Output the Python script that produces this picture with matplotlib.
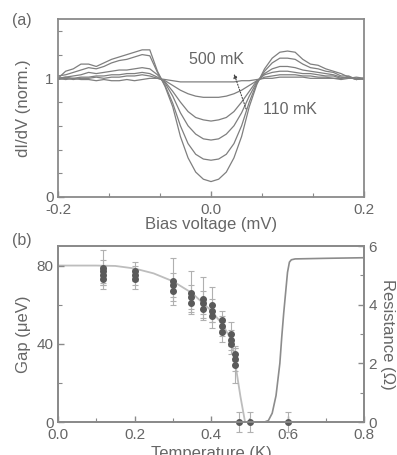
import numpy as np
import matplotlib
matplotlib.use("Agg")
import matplotlib.pyplot as plt
from matplotlib.ticker import MultipleLocator, FixedLocator

plt.rcParams['font.family'] = ['Liberation Sans', 'DejaVu Sans']

# ---------------- data: panel (a) ----------------
bias = np.linspace(-0.2, 0.2, 41)  # mV
didv_110 = [1.00,1.06,1.08,1.12,1.12,1.10,1.13,1.16,1.18,1.20,1.22,1.24,1.24,1.06,0.93,0.76,0.51,0.33,0.21,0.15,
            0.13,
            0.15,0.21,0.33,0.51,0.76,0.95,1.08,1.17,1.22,1.23,1.22,1.16,1.12,1.11,1.08,1.06,1.04,1.01,1.00,0.99]
didv_2 = [1.02,1.03,1.05,1.07,1.09,1.08,1.10,1.13,1.15,1.16,1.18,1.20,1.19,1.05,0.94,0.79,0.60,0.45,0.36,0.32,
          0.31,
          0.32,0.36,0.45,0.60,0.80,0.96,1.06,1.13,1.17,1.17,1.16,1.12,1.09,1.08,1.06,1.05,1.02,1.02,0.99,1.00]
didv_3 = [1.00,1.01,1.02,1.03,1.05,1.04,1.05,1.06,1.07,1.07,1.08,1.09,1.08,1.03,0.96,0.85,0.71,0.60,0.53,0.49,
          0.48,
          0.49,0.53,0.60,0.71,0.85,0.97,1.04,1.08,1.10,1.10,1.09,1.07,1.06,1.05,1.04,1.03,1.01,1.00,1.01,1.00]
didv_4 = [1.00,1.01,1.00,1.01,1.01,1.02,1.02,1.03,1.03,1.04,1.04,1.05,1.04,1.01,0.97,0.89,0.80,0.72,0.67,0.65,
          0.64,
          0.65,0.67,0.72,0.80,0.89,0.98,1.03,1.05,1.06,1.06,1.05,1.04,1.04,1.03,1.02,1.02,1.00,1.01,0.99,1.00]
didv_5 = [0.99,1.00,0.99,1.00,1.00,1.01,1.00,1.01,1.01,1.02,1.02,1.03,1.02,1.00,0.98,0.94,0.90,0.87,0.85,0.84,
          0.84,
          0.84,0.85,0.87,0.90,0.94,0.98,1.01,1.02,1.03,1.03,1.03,1.02,1.02,1.01,1.01,1.00,1.00,1.01,0.99,1.00]
didv_500 = [1.00,0.99,1.00,0.99,0.99,0.98,0.99,0.98,0.98,0.99,0.98,0.99,1.00,1.00,0.99,0.98,0.97,0.97,0.97,0.97,
            0.97,
            0.97,0.97,0.97,0.98,0.98,0.99,1.00,1.00,1.01,1.01,1.01,1.01,1.00,1.00,1.00,1.00,0.99,1.00,1.00,1.00]
curves = [didv_110, didv_2, didv_3, didv_4, didv_5, didv_500]
bias_ticks = [-0.2, 0.0, 0.2]
bias_labels = ['-0.2', '0.0', '0.2']

# ---------------- data: panel (b) ----------------
gap_T = [0.117]*4 + [0.2]*3 + [0.3]*3 + [0.348]*3 + [0.378]*3 + [0.403]*3 + [0.43]*3 + [0.452]*3 + [0.462]*3 + [0.473, 0.502, 0.6]
gap_val = [79, 77, 75, 73,
           77, 75, 73,
           72, 70, 67,
           66, 64, 61,
           63, 61, 58,
           60, 57, 54,
           52, 49, 46,
           45, 42, 40,
           35, 32, 29,
           0, 0, 0]
gap_err = [9, 6, 5, 5,
           5, 5, 5,
           12, 6, 5,
           11, 6, 5,
           11, 6, 5,
           9, 6, 6,
           5, 5, 5,
           6, 5, 5,
           4, 6, 9,
           5, 5, 5]
fit_T = [0.0, 0.05, 0.1, 0.15, 0.2, 0.25, 0.3, 0.35, 0.4, 0.43, 0.45, 0.46, 0.465, 0.477, 0.489]
fit_gap = [80, 80, 80, 79.8, 78.5, 76, 72, 66, 57, 50, 43, 35, 28, 13, 0]
res_T = [0.50, 0.54, 0.55, 0.56, 0.57, 0.58, 0.585, 0.59, 0.595, 0.60, 0.605, 0.61, 0.62, 0.70, 0.80]
res_R = [0, 0, 0.05, 0.3, 0.9, 2.0, 2.9, 3.7, 4.4, 5.1, 5.45, 5.53, 5.56, 5.58, 5.6]
temp_ticks = [0.0, 0.2, 0.4, 0.6, 0.8]
temp_labels = ['0.0', '0.2', '0.4', '0.6', '0.8']

txt = '#666666'
spine = '#8a8a8a'
line_c = '#7f7f7f'

fig = plt.figure(figsize=(3.97, 4.55), dpi=100)
axa = fig.add_axes([58/397, 1-197/455, (364-58)/397, (197-19)/455])
axb = fig.add_axes([58/397, 1-422/455, (364-58)/397, (422-246)/455])

def style(ax):
    for s in ax.spines.values():
        s.set_color(spine)
        s.set_linewidth(1.3)
    ax.tick_params(which='both', direction='in', colors=spine, labelcolor=txt, labelsize=11, pad=3)
    ax.tick_params(which='major', length=4, width=1)
    ax.tick_params(which='minor', length=3, width=0.8)

# panel (a)
for c in curves:
    axa.plot(bias, c, color=line_c, lw=0.9)
axa.set_xlim(-0.2, 0.2)
axa.set_ylim(0, 1.5)
axa.xaxis.set_major_locator(FixedLocator(bias_ticks))
axa.xaxis.set_minor_locator(FixedLocator([-0.4/3, -0.2/3, 0.2/3, 0.4/3]))
axa.yaxis.set_major_locator(FixedLocator([0, 1]))
axa.yaxis.set_minor_locator(FixedLocator([0.2, 0.4, 0.6, 0.8, 1.2, 1.4]))
axa.set_xticklabels(bias_labels)
style(axa)
axa.tick_params(axis='x', pad=4)
axa.set_xlabel('Bias voltage (mV)', color=txt, fontsize=12, labelpad=0)
axa.set_ylabel('dI/dV (norm.)', color=txt, fontsize=12, labelpad=10)
axa.text(0.007, 1.16, '500 mK', color=txt, fontsize=11.5, ha='center', va='center')
axa.text(0.068, 0.74, '110 mK', color=txt, fontsize=11.5, ha='left', va='center')
axa.annotate('', xy=(0.029, 1.06), xytext=(0.047, 0.72),
             arrowprops=dict(arrowstyle='-|>', color='#444444', lw=0.8, ls=(0, (1, 1.5)),
                             mutation_scale=6))
fig.text(12/397, 1-20/455, '(a)', color=txt, fontsize=11.5, va='center', ha='left')

# panel (b)
axb.plot(fit_T, fit_gap, color='#bdbdbd', lw=1.3, zorder=1)
axb.errorbar(gap_T, gap_val, yerr=gap_err, fmt='o', ms=4, mfc='#5a5a5a', mec='#5a5a5a',
             ecolor='#b0b0b0', elinewidth=0.8, capsize=2, capthick=0.8, zorder=3, clip_on=False)
axb.set_xlim(0, 0.8)
axb.set_ylim(0, 90)
axb.xaxis.set_major_locator(FixedLocator(temp_ticks))
axb.xaxis.set_minor_locator(FixedLocator([0.1, 0.3, 0.5, 0.7]))
axb.yaxis.set_major_locator(FixedLocator([0, 40, 80]))
axb.yaxis.set_minor_locator(FixedLocator([20, 60]))
axb.set_xticklabels(temp_labels)
style(axb)
axb.tick_params(axis='x', pad=4)
axb.set_xlabel('Temperature (K)', color=txt, fontsize=12, labelpad=3)
axb.set_ylabel('Gap (\u03bceV)', color=txt, fontsize=12, labelpad=4)

axr = axb.twinx()
axr.plot(res_T, res_R, color='#8c8c8c', lw=1.2)
axr.set_ylim(0, 6)
axr.yaxis.set_major_locator(FixedLocator([0, 2, 4, 6]))
axr.yaxis.set_minor_locator(FixedLocator([1, 3, 5]))
style(axr)
axr.set_ylabel('Resistance (\u03a9)', color=txt, fontsize=12, rotation=270, labelpad=13)
fig.text(12/397, 1-240/455, '(b)', color=txt, fontsize=11.5, va='center', ha='left')

fig.savefig('out.png', dpi=100)
